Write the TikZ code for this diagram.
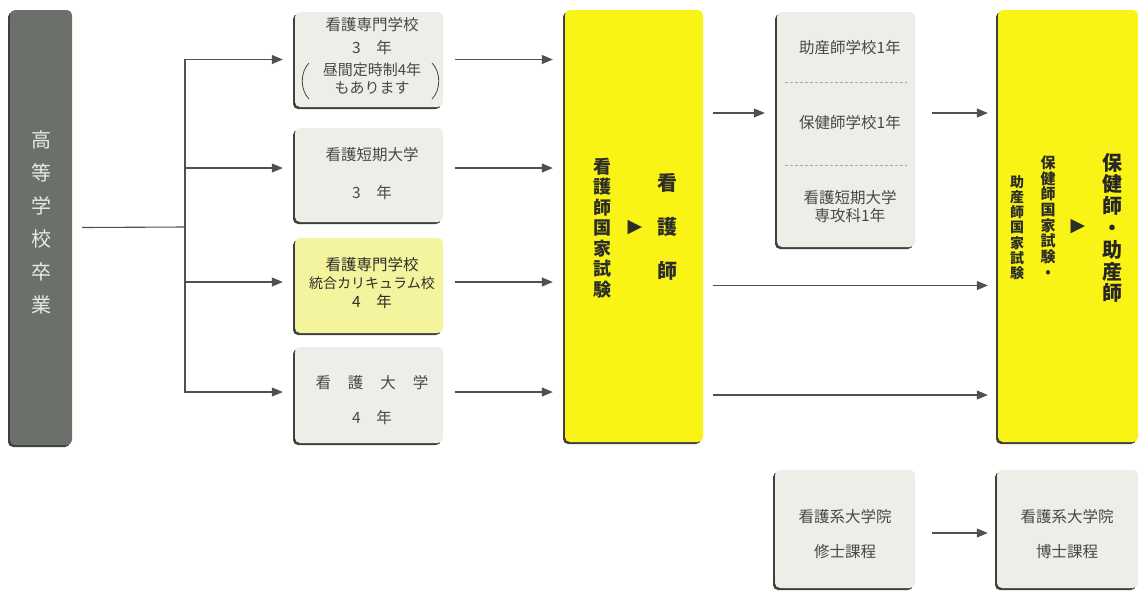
\documentclass[tikz,border=0pt]{standalone}
\usepackage{fontspec}
\setmainfont{Noto Sans CJK JP}
\newfontfamily\symfont{DejaVu Sans}
\usetikzlibrary{arrows.meta,shadows}

\definecolor{boxgray}{RGB}{236,238,231}
\definecolor{bargray}{RGB}{108,112,106}
\definecolor{paleyellow}{RGB}{244,243,158}
\definecolor{brightyellow}{RGB}{250,244,22}
\definecolor{linegray}{RGB}{80,80,80}
\definecolor{txtgray}{RGB}{72,72,72}
\definecolor{txtdark}{RGB}{45,45,40}

\tikzset{
  box/.style={rectangle, rounded corners=5pt, inner sep=0pt,
    drop shadow={shadow xshift=-2pt, shadow yshift=-2pt, fill=black!75, opacity=1}},
  greybox/.style={box, fill=boxgray},
  yellowbox/.style={box, fill=brightyellow},
  flow/.style={draw=linegray, line width=1.1pt, -{Triangle[length=11pt,width=9pt]}},
  plain/.style={draw=linegray, line width=1.1pt},
  label/.style={text=txtgray, inner sep=0pt, align=center, font=\fontsize{15.5}{18}\selectfont},
  vtext/.style={text=txtdark, inner sep=0pt, align=center},
}

\begin{document}
\begin{tikzpicture}[x=1pt, y=-1pt]
\useasboundingbox (0,0) rectangle (1140,590);

% boxes
\node[box, fill=bargray, minimum width=62pt, minimum height=435pt] (sotsu) at (41,227.5) {};
\node[greybox, minimum width=148pt, minimum height=95pt] (senmon) at (369,59.5) {};
\node[greybox, minimum width=148pt, minimum height=94pt] (tanki) at (369,175) {};
\node[box, fill=paleyellow, minimum width=148pt, minimum height=95pt] (tougou) at (369,285.5) {};
\node[greybox, minimum width=148pt, minimum height=96pt] (daigaku) at (369,395) {};
\node[yellowbox, minimum width=138pt, minimum height=432pt] (kangoshi) at (634,226) {};
\node[greybox, minimum width=138pt, minimum height=235pt] (joiku) at (846,129.5) {};
\node[yellowbox, minimum width=140pt, minimum height=432pt] (hokenshi) at (1068,226) {};
\node[greybox, minimum width=140pt, minimum height=118pt] (shushi) at (845,529) {};
\node[greybox, minimum width=141pt, minimum height=118pt] (hakushi) at (1067.5,529) {};

% texts
\node[vtext, text=white!85!bargray, font=\fontsize{20}{33}\selectfont] (sotsutxt) at (41,222) {高\\等\\学\\校\\卒\\業};

\node[label] (senmon1) at (372,25) {看護専門学校};
\node[label] (senmon2) at (372,48) {3　年};
\node[label, font=\fontsize{15}{18}\selectfont] (senmon3) at (372,79) {昼間定時制4年\\もあります};
\draw[draw=txtgray, line width=0.8pt] (309,63) .. controls (300,72) and (300,90) .. (309,99);
\draw[draw=txtgray, line width=0.8pt] (432,63) .. controls (441,72) and (441,90) .. (432,99);

\node[label] (tanki1) at (372,155) {看護短期大学};
\node[label] (tanki2) at (372,193) {3　年};

\node[label, text=txtdark] (tougou1) at (372,265) {看護専門学校};
\node[label, text=txtdark, font=\fontsize{14}{16}\selectfont] (tougou2) at (372,283) {統合カリキュラム校};
\node[label, text=txtdark] (tougou3) at (372,302) {4　年};

\node[label] (daigaku1) at (372,383) {看\kern17pt 護\kern17pt 大\kern17pt 学};
\node[label] (daigaku2) at (372,418) {4　年};

\node[vtext, font=\bfseries\fontsize{18}{20.5}\selectfont] (kokushi) at (602,228) {看\\護\\師\\国\\家\\試\\験};
\node[vtext, font=\symfont\fontsize{19}{19}\selectfont] (mark1) at (635,228) {▶};
\node[vtext, font=\bfseries\fontsize{20}{44}\selectfont] (kangoshitxt) at (667,227) {看\\護\\師};

\node[label] (josan) at (850,48) {助産師学校1年};
\node[label] (hoken) at (850,123) {保健師学校1年};
\node[label] (senkou) at (850,207) {看護短期大学\\専攻科1年};
\draw[draw=black!35, line width=0.7pt, dash pattern=on 3pt off 2pt] ([xshift=8pt]joiku.west |- 0,82) -- ([xshift=-8pt]joiku.east |- 0,82);
\draw[draw=black!35, line width=0.7pt, dash pattern=on 3pt off 2pt] ([xshift=8pt]joiku.west |- 0,165) -- ([xshift=-8pt]joiku.east |- 0,165);

\node[vtext, font=\bfseries\fontsize{14}{15.2}\selectfont] (josankoku) at (1017,227.5) {助\\産\\師\\国\\家\\試\\験};
\node[vtext, font=\bfseries\fontsize{15}{15.7}\selectfont] (hokenkoku) at (1048,217) {保\\健\\師\\国\\家\\試\\験\\・};
\node[vtext, font=\symfont\fontsize{19}{19}\selectfont] (mark2) at (1078,227) {▶};
\node[vtext, text=black!85, font=\bfseries\fontsize{20}{21.8}\selectfont] (hokentxt) at (1112,228) {保\\健\\師\\・\\助\\産\\師};

\node[label] (shushi1) at (845,517) {看護系大学院};
\node[label] (shushi2) at (845,552) {修士課程};
\node[label] (hakushi1) at (1067,517) {看護系大学院};
\node[label] (hakushi2) at (1067,552) {博士課程};

% connectors
\coordinate (fork) at (185,227);
\draw[plain] ([xshift=10pt]sotsu.east) -- (fork);
\draw[flow] (fork) |- ([xshift=-12pt]senmon.west);
\draw[flow] (fork) |- ([xshift=-12pt,yshift=7pt]tanki.west);
\draw[flow] (fork) |- ([xshift=-12pt,yshift=3.5pt]tougou.west);
\draw[flow] (fork) |- ([xshift=-12pt,yshift=3pt]daigaku.west);

\draw[flow] ([xshift=12pt]senmon.east) -- ([xshift=-12pt]senmon.east -| kangoshi.west);
\draw[flow] ([xshift=12pt,yshift=7pt]tanki.east) -- ([xshift=-12pt,yshift=7pt]tanki.east -| kangoshi.west);
\draw[flow] ([xshift=12pt,yshift=3.5pt]tougou.east) -- ([xshift=-12pt,yshift=3.5pt]tougou.east -| kangoshi.west);
\draw[flow] ([xshift=12pt,yshift=3pt]daigaku.east) -- ([xshift=-12pt,yshift=3pt]daigaku.east -| kangoshi.west);

\draw[flow] ([xshift=10pt]kangoshi.east |- 0,113) -- ([xshift=-12pt]joiku.west |- 0,113);
\draw[flow] ([xshift=17pt]joiku.east |- 0,113) -- ([xshift=-10pt]hokenshi.west |- 0,113);
\draw[flow] ([xshift=10pt]kangoshi.east |- tougou) -- ([xshift=-10pt]hokenshi.west |- tougou);
\draw[flow] ([xshift=10pt]kangoshi.east |- daigaku) -- ([xshift=-10pt]hokenshi.west |- daigaku);
\draw[flow] ([xshift=17pt,yshift=-4pt]shushi.east) -- ([xshift=-9pt,yshift=-4pt]hakushi.west);
\end{tikzpicture}
\end{document}
